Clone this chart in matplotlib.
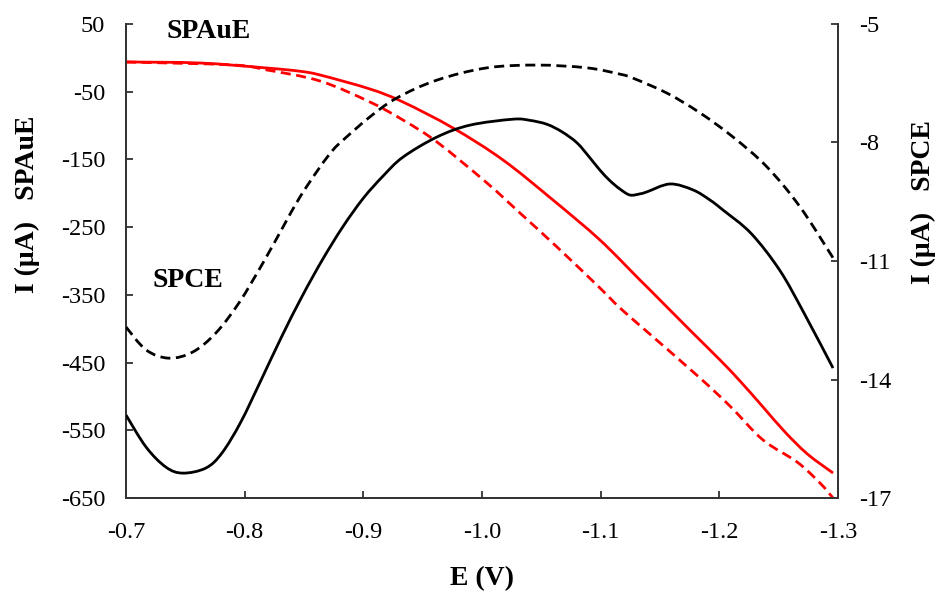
import matplotlib
matplotlib.use("Agg")
import matplotlib.pyplot as plt
from matplotlib.path import Path
from matplotlib.patches import PathPatch

# ---- data ----
# SPAuE (left axis, µA)
E_au_solid = [-0.700, -0.7624, -0.8188, -0.8466, -0.8635, -0.9056, -0.9334, -0.9756,
              -1.0177, -1.0598, -1.0994, -1.1331, -1.1416, -1.1751, -1.2006, -1.2174,
              -1.2368, -1.2553, -1.2742, -1.2958]
I_au_solid = [-6.1, -7.6, -15.0, -19.8, -25.3, -46.0, -65.2, -103.6,
              -150.8, -209.9, -269.0, -328.1, -342.8, -401.9, -446.2, -477.2,
              -515.6, -552.5, -585.0, -613.1]

E_au_dash = [-0.700, -0.7902, -0.8188, -0.8635, -0.9056, -0.9334, -0.9621, -1.0042,
             -1.0320, -1.0632, -1.0994, -1.1163, -1.1407, -1.1837, -1.2095, -1.2368,
             -1.2655, -1.2848, -1.2958]
I_au_dash = [-6.1, -10.5, -17.9, -34.2, -65.2, -91.8, -124.3, -184.8,
             -229.1, -279.3, -339.9, -369.4, -406.8, -472.8, -515.2, -564.3,
             -596.8, -627.8, -650.0]

# SPCE (right axis, µA)
E_c_solid = [-0.700, -0.7169, -0.7337, -0.7480, -0.7674, -0.7809, -0.7967, -0.8139,
             -0.8311, -0.8483, -0.8655, -0.8828, -0.9000, -0.9166, -0.9334, -0.9621,
             -0.9899, -1.0261, -1.0405, -1.0548, -1.0674, -1.0801, -1.0910, -1.0994,
             -1.1079, -1.1163, -1.1247, -1.1331, -1.1390, -1.1584, -1.1778, -1.1923,
             -1.2031, -1.2267, -1.2508, -1.2714, -1.2958]
I_c_solid = [-14.90, -15.71, -16.22, -16.37, -16.24, -15.86, -15.08, -14.01,
             -12.92, -11.90, -10.97, -10.13, -9.41, -8.85, -8.37, -7.86,
             -7.56, -7.41, -7.44, -7.54, -7.73, -8.01, -8.39, -8.70,
             -8.97, -9.18, -9.33, -9.30, -9.25, -9.05, -9.20, -9.46,
             -9.71, -10.30, -11.23, -12.32, -13.71]

E_c_dash = [-0.700, -0.7169, -0.7362, -0.7565, -0.7758, -0.7952, -0.8154, -0.8323,
            -0.8466, -0.8635, -0.8744, -0.8829, -0.9056, -0.9284, -0.9621, -1.0042,
            -1.0463, -1.0885, -1.1163, -1.1272, -1.1559, -1.1837, -1.2115, -1.2402,
            -1.2680, -1.2958]
I_c_dash = [-12.67, -13.25, -13.46, -13.30, -12.82, -12.06, -11.05, -10.14,
            -9.38, -8.62, -8.19, -7.94, -7.35, -6.87, -6.42, -6.11,
            -6.04, -6.11, -6.27, -6.37, -6.75, -7.25, -7.86, -8.62,
            -9.63, -10.92]

x_ticks = [-0.7, -0.8, -0.9, -1.0, -1.1, -1.2, -1.3]
y_left_ticks = [50, -50, -150, -250, -350, -450, -550, -650]
y_right_ticks = [-5, -8, -11, -14, -17]

# ---- style ----
plt.rcParams['font.family'] = ['Liberation Serif', 'DejaVu Serif']
plt.rcParams['axes.unicode_minus'] = False
spine_c = '#333333'


def smooth_path(xs, ys):
    """Smoothed-line path (Catmull-Rom style Bezier) through the given points."""
    pts = list(zip(xs, ys))
    n = len(pts)
    verts = [pts[0]]
    codes = [Path.MOVETO]
    for i in range(n - 1):
        p0 = pts[i - 1] if i > 0 else pts[i]
        p1 = pts[i]
        p2 = pts[i + 1]
        p3 = pts[i + 2] if i + 2 < n else pts[i + 1]
        c1 = (p1[0] + (p2[0] - p0[0]) / 6, p1[1] + (p2[1] - p0[1]) / 6)
        c2 = (p2[0] - (p3[0] - p1[0]) / 6, p2[1] - (p3[1] - p1[1]) / 6)
        verts += [c1, c2, p2]
        codes += [Path.CURVE4] * 3
    return Path(verts, codes)


def draw(axis, xs, ys, color, dashed):
    ls = (0, (3.6, 2.0)) if dashed else '-'
    patch = PathPatch(smooth_path(xs, ys), fill=False, edgecolor=color, lw=2.0,
                      linestyle=ls, joinstyle='round', capstyle='butt', zorder=3)
    axis.add_patch(patch)


fig = plt.figure(figsize=(9.4, 5.92), dpi=100)
ax = fig.add_axes([126/940, 1-498/592, (838-126)/940, (498-24)/592])
ax2 = ax.twinx()

draw(ax, E_au_solid, I_au_solid, '#ff0000', False)
draw(ax, E_au_dash, I_au_dash, '#ff0000', True)
draw(ax2, E_c_solid, I_c_solid, 'black', False)
draw(ax2, E_c_dash, I_c_dash, 'black', True)

ax.set_xlim(-0.7, -1.3)
ax.set_ylim(-650, 50)
ax2.set_ylim(-17, -5)

ax.set_xticks(x_ticks)
ax.set_xticklabels([f"{t:.1f}" for t in x_ticks])
ax.set_yticks(y_left_ticks)
ax2.set_yticks(y_right_ticks)

for a in (ax, ax2):
    a.spines['top'].set_visible(False)
    for s in ('left', 'right', 'bottom'):
        a.spines[s].set_color(spine_c)
        a.spines[s].set_linewidth(1.3)
    a.tick_params(direction='in', length=5, width=1.3, color=spine_c,
                  labelsize=17.5, labelcolor='black')
ax.tick_params(axis='y', pad=15)
ax.tick_params(axis='x', pad=17)
ax2.tick_params(axis='y', pad=15)

ax.set_xlabel('E (V)', fontsize=20, fontweight='bold', labelpad=17)

fig.text(27/940, 1-204/592, 'I (μA)   SPAuE', rotation=90, fontsize=20,
         fontweight='bold', ha='center', va='center')
fig.text(923/940, 1-202/592, 'I (μA)   SPCE', rotation=90, fontsize=20,
         fontweight='bold', ha='center', va='center')

fig.text(209/940, 1-32/592, 'SPAuE', fontsize=20, fontweight='bold',
         ha='center', va='center')
fig.text(187.5/940, 1-280/592, 'SPCE', fontsize=20, fontweight='bold',
         ha='center', va='center')

fig.savefig('out.png', dpi=100)
